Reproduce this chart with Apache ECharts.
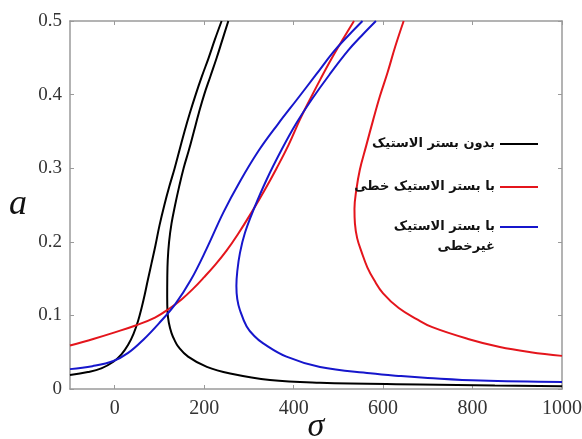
<!DOCTYPE html>
<html>
<head>
<meta charset="utf-8">
<script src="https://cdn.jsdelivr.net/npm/echarts@6/dist/echarts.min.js"></script>
<style>
  html, body { margin: 0; padding: 0; background: #fff; }
  #chart { width: 582px; height: 439px; }
</style>
</head>
<body>
<div id="chart"></div>
<script>
// Frequency-response curves: amplitude a against detuning sigma.
// Each case has a rising (left) branch and a bending-back (right) branch, as [sigma, a] pairs.
const seriesNames = ['بدون بستر الاستیک', 'با بستر الاستیک خطی', 'با بستر الاستیک غیرخطی'];

const noBedLeft = [[-100, 0.019], [-60, 0.023], [-30, 0.028], [-3, 0.037], [15, 0.047], [30, 0.060],
  [42, 0.075], [52, 0.092], [60, 0.110], [67, 0.128], [74, 0.148], [82, 0.170], [91, 0.195],
  [100, 0.222], [111, 0.250], [122, 0.275], [134, 0.300], [145, 0.325], [156, 0.350], [168, 0.375],
  [181, 0.400], [195, 0.425], [210, 0.450], [224, 0.475], [239, 0.500]];
const noBedRight = [[254, 0.500], [241, 0.475], [228, 0.450], [214, 0.425], [200, 0.400], [188, 0.375],
  [177, 0.350], [166, 0.325], [154, 0.300], [144, 0.275], [135, 0.250], [127, 0.225], [121.5, 0.200],
  [118.5, 0.175], [117.5, 0.150], [117.3, 0.125], [118, 0.105], [121, 0.090], [127, 0.076],
  [134, 0.066], [142, 0.0575], [164, 0.044], [206, 0.030], [258, 0.021], [347, 0.0122], [459, 0.0086],
  [682, 0.0062], [850, 0.0047], [1000, 0.0037]];

const linearLeft = [[-100, 0.059], [-48, 0.068], [0, 0.077], [45, 0.086], [90, 0.097], [124, 0.110],
  [150, 0.122], [175, 0.136], [200, 0.152], [225, 0.169], [250, 0.188], [275, 0.210], [306, 0.240],
  [335, 0.270], [362, 0.300], [389, 0.332], [414, 0.366], [437, 0.394], [460, 0.421], [484, 0.448],
  [509, 0.474], [535, 0.500]];
const linearRight = [[646, 0.500], [627, 0.465], [610, 0.430], [593, 0.398], [578, 0.366], [562, 0.330],
  [548, 0.298], [540, 0.270], [536, 0.245], [537, 0.225], [542, 0.205], [552, 0.186], [565, 0.165],
  [580, 0.148], [600, 0.130], [635, 0.110], [675, 0.095], [710, 0.084], [790, 0.068], [861, 0.057],
  [930, 0.050], [1000, 0.045]];

const nonlinearLeft = [[-100, 0.027], [-50, 0.031], [-3, 0.038], [30, 0.049], [64, 0.067], [100, 0.090],
  [135, 0.115], [170, 0.148], [205, 0.190], [243, 0.240], [280, 0.282], [322, 0.324], [365, 0.360],
  [407, 0.393], [450, 0.427], [489, 0.458], [522, 0.480], [554, 0.500]];
const nonlinearRight = [[584, 0.500], [552, 0.480], [522, 0.460], [480, 0.427], [440, 0.393], [405, 0.360],
  [373, 0.325], [340, 0.285], [310, 0.243], [291, 0.212], [280, 0.185], [274, 0.160], [272, 0.140],
  [274, 0.122], [280, 0.107], [295, 0.085], [312, 0.072], [332, 0.062], [384, 0.044], [459, 0.030],
  [571, 0.0213], [640, 0.0175], [700, 0.0150], [817, 0.0115], [1000, 0.0095]];

const xTicks = [0, 200, 400, 600, 800, 1000];
const colors = ['#000000', '#e4151c', '#1616cc'];

const serif = '"Liberation Serif", "DejaVu Serif", serif';
const persian = '"DejaVu Sans", sans-serif';
const axisGray = '#9a9a9a';

function branch(name, data, color) {
  return {
    name: name,
    type: 'line',
    data: data,
    smooth: 0.4,
    showSymbol: false,
    symbol: 'none',
    clip: true,
    lineStyle: { color: color, width: 2 },
    itemStyle: { color: color },
    emphasis: { disabled: true },
    animation: false
  };
}

const chart = echarts.init(document.getElementById('chart'), null, { renderer: 'canvas' });

const baseX = {
  type: 'value', min: -100, max: 1000,
  axisLine: { show: true, onZero: false, lineStyle: { color: axisGray, width: 1.5 } },
  axisTick: { show: true, inside: true, length: 4, customValues: xTicks, lineStyle: { color: axisGray } },
  splitLine: { show: false }
};
const baseY = {
  type: 'value', min: 0, max: 0.5, interval: 0.1,
  axisLine: { show: true, onZero: false, lineStyle: { color: axisGray, width: 1.5 } },
  axisTick: { show: true, inside: true, length: 4, lineStyle: { color: axisGray } },
  splitLine: { show: false }
};

const legendCommon = {
  orient: 'vertical',
  align: 'right',
  right: 44,
  padding: 0,
  itemWidth: 38,
  itemHeight: 2,
  itemGap: 23,
  icon: 'rect',
  selectedMode: false,
  textStyle: { fontFamily: persian, fontWeight: 'bold', fontSize: 13, color: '#111', lineHeight: 20 }
};

chart.setOption({
  backgroundColor: '#ffffff',
  animation: false,
  grid: { left: 70, top: 21, right: 20, bottom: 50, containLabel: false, outerBoundsMode: 'none' },
  xAxis: [
    Object.assign({}, baseX, {
      position: 'bottom',
      name: 'σ', nameLocation: 'middle', nameGap: 21, nameMoveOverlap: false,
      nameTextStyle: { fontFamily: serif, fontStyle: 'italic', fontSize: 34, color: '#111' },
      axisLabel: {
        customValues: xTicks, fontFamily: serif, fontSize: 20, color: '#333', margin: 10,
        formatter: function (v) { return String(v); }
      }
    }),
    Object.assign({}, baseX, { position: 'top', axisLabel: { show: false } })
  ],
  yAxis: [
    Object.assign({}, baseY, {
      position: 'left',
      name: 'a', nameLocation: 'middle', nameGap: 43, nameRotate: 0,
      nameTextStyle: { fontFamily: serif, fontStyle: 'italic', fontSize: 36, color: '#111' },
      axisLabel: { fontFamily: serif, fontSize: 19, color: '#333', margin: 8 }
    }),
    Object.assign({}, baseY, { position: 'right', axisLabel: { show: false } })
  ],
  legend: [
    Object.assign({}, legendCommon, {
      top: 134,
      data: [seriesNames[0], seriesNames[1]]
    }),
    Object.assign({}, legendCommon, {
      top: 197,
      data: [seriesNames[2]],
      // leading empty line keeps the first text line level with the swatch
      formatter: function () { return '\nبا بستر الاستیک\nغیرخطی'; }
    })
  ],
  series: [
    branch(seriesNames[0], noBedLeft, colors[0]),
    branch(seriesNames[0], noBedRight, colors[0]),
    branch(seriesNames[1], linearLeft, colors[1]),
    branch(seriesNames[1], linearRight, colors[1]),
    branch(seriesNames[2], nonlinearLeft, colors[2]),
    branch(seriesNames[2], nonlinearRight, colors[2])
  ]
});
</script>
</body>
</html>
